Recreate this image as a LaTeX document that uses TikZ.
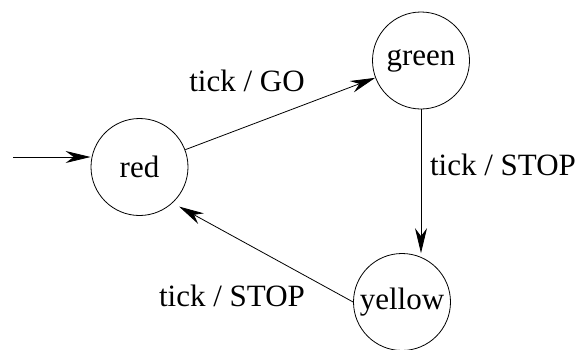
\documentclass[tikz,border=0pt]{standalone}
\usepackage{fontspec}
\setmainfont{Liberation Serif}
\usetikzlibrary{arrows.meta}
\begin{document}
\begin{tikzpicture}[x=1pt,y=-1pt,
  state/.style={draw,circle,line width=0.8pt,minimum size=97pt,inner sep=0pt,
    font=\fontsize{31}{36}\selectfont},
  lbl/.style={font=\fontsize{31}{36}\selectfont,inner sep=0pt},
  trans/.style={line width=0.8pt,-{Stealth[length=25pt,width=12pt,inset=8pt]}}]
\useasboundingbox (0,0) rectangle (579,349);
\begin{scope}
\clip (0,0) rectangle (579,349);
\node[state] (red) at (139.5,167) {red};
\node[state] (green) at (421,60.5) {green};
\node[state] (yellow) at (402,302) {yellow};
\end{scope}
\coordinate (start) at (13,157);
\draw[trans] (start) -- (start -| red.west);
\draw[trans] (red) -- (green);
\draw[trans] (green.south) -- (green.south |- yellow.north);
\draw[trans] (yellow.west) -- ([shift={(5,5)}]red.-45);
\node[lbl] (l1) at (247,81) {tick / GO};
\node[lbl] (l2) at (503,165) {tick / STOP};
\node[lbl] (l3) at (232,296) {tick / STOP};
\end{tikzpicture}
\end{document}
